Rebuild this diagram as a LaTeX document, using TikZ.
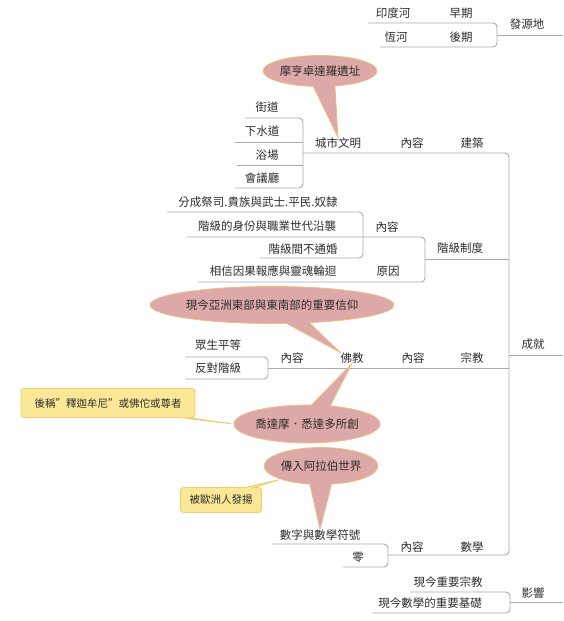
\documentclass[tikz,border=0pt]{standalone}
\usepackage{fontspec}
\setmainfont{Noto Sans CJK TC}
\usetikzlibrary{shapes.callouts}
\definecolor{linegray}{RGB}{170,170,170}
\definecolor{textgray}{RGB}{45,45,45}
\definecolor{bubblefill}{RGB}{221,168,168}
\definecolor{bubbleline}{RGB}{238,192,128}
\definecolor{notefill}{RGB}{250,232,150}
\definecolor{noteline}{RGB}{238,204,112}

\begin{document}
\begin{tikzpicture}[x=1pt,y=-1pt,
	topic/.style={inner sep=0pt,text=textgray,font=\fontsize{11.5}{13}\selectfont},
	link/.style={draw=linegray,line width=0.9pt,rounded corners=4pt},
	bubble/.style={ellipse callout,fill=bubblefill,draw=bubbleline,line width=0.8pt,inner sep=0pt,
		text=textgray,font=\fontsize{11.5}{13}\selectfont,callout pointer arc=22},
	note/.style={rectangle callout,fill=notefill,draw=noteline,line width=0.8pt,rounded corners=3pt,
		inner sep=0pt,text=textgray,font=\fontsize{10.5}{12}\selectfont,callout pointer width=9pt}]
				\fill [white] (0,0) rectangle (563,621);
				\useasboundingbox (0,0) rectangle (563,621);

				% junctions
				\coordinate (jOrigin) at (497,35);
				\coordinate (jCity) at (303,153);
				\coordinate (jCaste) at (425,259);
				\coordinate (jCasteIn) at (363,237);
				\coordinate (jBuddha) at (268,368);
				\coordinate (jMath) at (388,555);
				\coordinate (jRoot) at (509,355);
				\coordinate (jImpact) at (510,602);

				% 發源地
				\draw [link] (368,23) -- (497,23) -- (497,47) -- (380,47);
				\draw [link] (jOrigin) -- (563,35);
				\node [topic] (indus) at (393,13) {印度河};
				\node [topic] (early) at (461,13) {早期};
				\node [topic] (ganges) at (396,37) {恆河};
				\node [topic] (late) at (461,37) {後期};
				\node [topic] (origin) at (527,24) {發源地};

				% 成就
				\draw [link] (jCity) -- (509,153) -- (509,555) -- (jMath);
				\draw [link] (jRoot) -- (563,355);
				\node [topic] (achieve) at (533,344) {成就};

				\draw [link] (245,118) -- (303,118) -- (303,188) -- (235,188);
				\draw [link] (235,142) -- (303,142);
				\draw [link] (237,165) -- (303,165);
				\node [topic] (street) at (267,107) {街道};
				\node [topic] (sewer) at (262,131) {下水道};
				\node [topic] (bath) at (267,155) {浴場};
				\node [topic] (hall) at (262,178) {會議廳};
				\node [topic] (city) at (338,143) {城市文明};
				\node [topic] (cityin) at (412,143) {內容};
				\node [topic] (build) at (472,143) {建築};

				\draw [link] (167,212) -- (363,212) -- (363,258) -- (260,258);
				\draw [link] (187,237) -- (425,237) -- (425,282) -- (198,282);
				\draw [link] (jCaste) -- (509,259);
				\node [topic] (classes) at (258,202) {分成祭司.貴族與武士.平民.奴隸};
				\node [topic] (inherit) at (267,226) {階級的身份與職業世代沿襲};
				\node [topic] (nomarry) at (303,249) {階級間不通婚};
				\node [topic] (karma) at (273,271) {相信因果報應與靈魂輪迴};
				\node [topic] (castein) at (387,227) {內容};
				\node [topic] (cause) at (388,271) {原因};
				\node [topic] (caste) at (460,248) {階級制度};

				\draw [link] (185,357) -- (268,357) -- (268,379) -- (185,379);
				\draw [link] (jBuddha) -- (509,368);
				\node [topic] (equal) at (218,345) {眾生平等};
				\node [topic] (against) at (218,368) {反對階級};
				\node [topic] (foin) at (292,358) {內容};
				\node [topic] (fo) at (352,358) {佛教};
				\node [topic] (religin) at (413,358) {內容};
				\node [topic] (relig) at (472,358) {宗教};

				\draw [link] (272,544) -- (388,544) -- (388,567) -- (343,567);
				\node [topic] (digits) at (320,535) {數字與數學符號};
				\node [topic] (zero) at (358,557) {零};
				\node [topic] (mathin) at (412,547) {內容};
				\node [topic] (math) at (472,547) {數學};

				% 影響
				\draw [link] (410,592) -- (510,592) -- (510,613) -- (372,613);
				\draw [link] (jImpact) -- (563,602);
				\node [topic] (relnow) at (448,582) {現今重要宗教};
				\node [topic] (mathnow) at (430,603) {現今數學的重要基礎};
				\node [topic] (impact) at (533,593) {影響};

				% callouts
				\node [bubble,minimum width=106,minimum height=31,callout absolute pointer={(city.north)}] (site) at (320,71) {摩亨卓達羅遺址};
				\node [bubble,minimum width=211,minimum height=37,callout pointer arc=11,callout absolute pointer={(fo.north west)}] (faith) at (272,305) {現今亞洲東部與東南部的重要信仰};
				\node [bubble,minimum width=134,minimum height=38,callout pointer arc=15,callout absolute pointer={(fo.south)}] (founder) at (307,424) {喬達摩．悉達多所創};
				\node [note,minimum width=174,minimum height=29,callout absolute pointer={(founder.west)}] (title) at (108,403) {後稱"釋迦牟尼"或佛佗或尊者};
				\node [bubble,minimum width=108,minimum height=37,callout absolute pointer={(digits.north)}] (arab) at (321,466) {傳入阿拉伯世界};
				\node [note,minimum width=81,minimum height=25,callout absolute pointer={(arab.south west)}] (europe) at (221,500) {被歐洲人發揚};

			\end{tikzpicture}
\end{document}
